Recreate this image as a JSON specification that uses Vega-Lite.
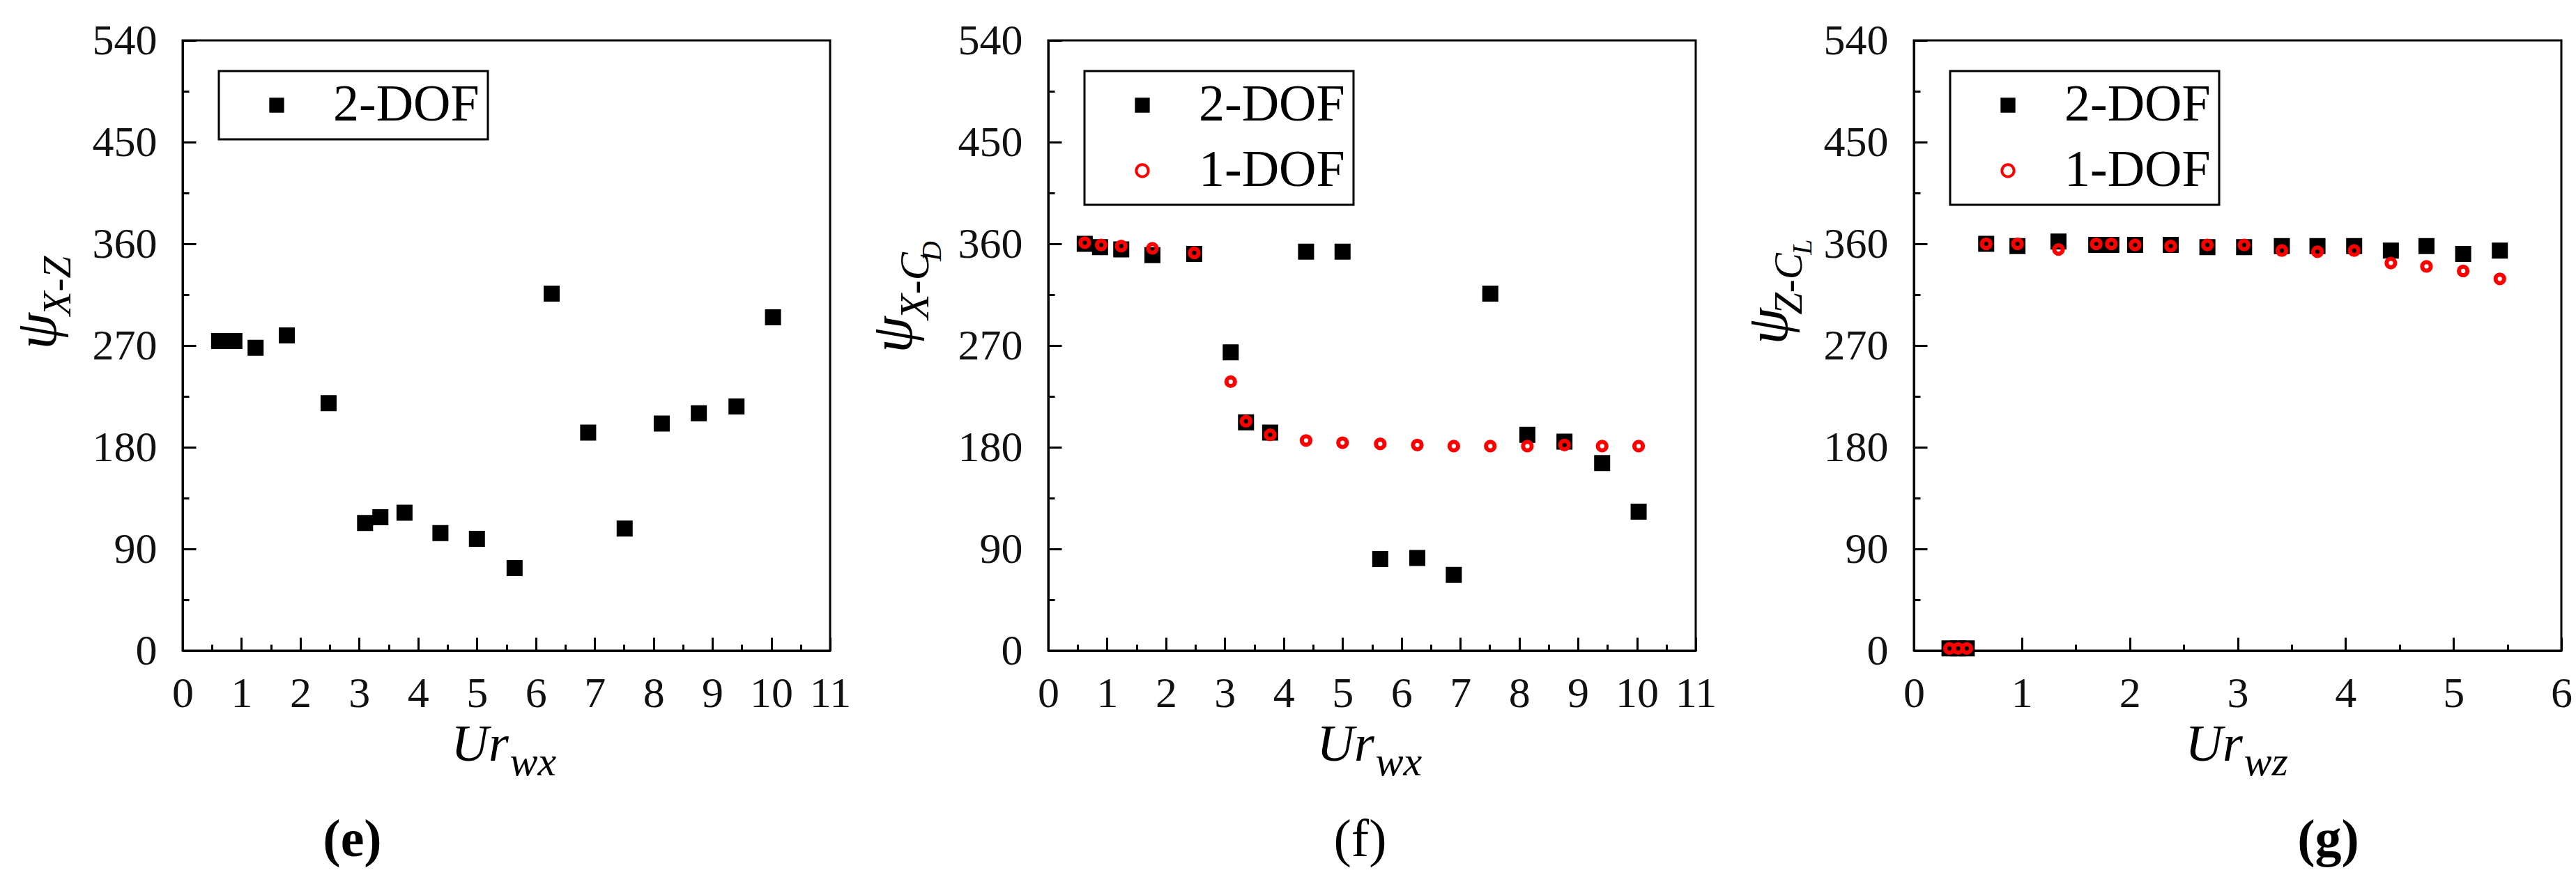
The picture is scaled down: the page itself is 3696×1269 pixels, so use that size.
{
  "$schema": "https://vega.github.io/schema/vega-lite/v6.json",
  "background": "white",
  "padding": {"left": 10, "top": 25, "right": 5, "bottom": 5},
  "bounds": "flush",
  "spacing": 313,
  "datasets": {
    "e": [
      {"ur": 0.62, "psi": 274, "series": "2-DOF"},
      {"ur": 0.88, "psi": 274, "series": "2-DOF"},
      {"ur": 1.24, "psi": 268, "series": "2-DOF"},
      {"ur": 1.77, "psi": 279, "series": "2-DOF"},
      {"ur": 2.48, "psi": 219, "series": "2-DOF"},
      {"ur": 3.10, "psi": 113, "series": "2-DOF"},
      {"ur": 3.36, "psi": 118, "series": "2-DOF"},
      {"ur": 3.77, "psi": 122, "series": "2-DOF"},
      {"ur": 4.38, "psi": 104, "series": "2-DOF"},
      {"ur": 5.00, "psi": 99, "series": "2-DOF"},
      {"ur": 5.64, "psi": 73, "series": "2-DOF"},
      {"ur": 6.27, "psi": 316, "series": "2-DOF"},
      {"ur": 6.89, "psi": 193, "series": "2-DOF"},
      {"ur": 7.51, "psi": 108, "series": "2-DOF"},
      {"ur": 8.14, "psi": 201, "series": "2-DOF"},
      {"ur": 8.77, "psi": 210, "series": "2-DOF"},
      {"ur": 9.41, "psi": 216, "series": "2-DOF"},
      {"ur": 10.03, "psi": 295, "series": "2-DOF"}
    ],
    "f": [
      {"ur": 0.62, "psi": 360, "series": "2-DOF"},
      {"ur": 0.88, "psi": 357, "series": "2-DOF"},
      {"ur": 1.24, "psi": 355, "series": "2-DOF"},
      {"ur": 1.77, "psi": 350, "series": "2-DOF"},
      {"ur": 2.48, "psi": 351, "series": "2-DOF"},
      {"ur": 3.10, "psi": 264, "series": "2-DOF"},
      {"ur": 3.36, "psi": 202, "series": "2-DOF"},
      {"ur": 3.77, "psi": 193, "series": "2-DOF"},
      {"ur": 4.38, "psi": 353, "series": "2-DOF"},
      {"ur": 5.00, "psi": 353, "series": "2-DOF"},
      {"ur": 5.64, "psi": 81, "series": "2-DOF"},
      {"ur": 6.27, "psi": 82, "series": "2-DOF"},
      {"ur": 6.89, "psi": 67, "series": "2-DOF"},
      {"ur": 7.51, "psi": 316, "series": "2-DOF"},
      {"ur": 8.14, "psi": 191, "series": "2-DOF"},
      {"ur": 8.77, "psi": 185, "series": "2-DOF"},
      {"ur": 9.41, "psi": 166, "series": "2-DOF"},
      {"ur": 10.03, "psi": 123, "series": "2-DOF"},
      {"ur": 0.62, "psi": 361, "series": "1-DOF"},
      {"ur": 0.90, "psi": 359, "series": "1-DOF"},
      {"ur": 1.24, "psi": 358, "series": "1-DOF"},
      {"ur": 1.77, "psi": 356, "series": "1-DOF"},
      {"ur": 2.48, "psi": 352, "series": "1-DOF"},
      {"ur": 3.10, "psi": 238, "series": "1-DOF"},
      {"ur": 3.36, "psi": 203, "series": "1-DOF"},
      {"ur": 3.77, "psi": 191, "series": "1-DOF"},
      {"ur": 4.38, "psi": 186, "series": "1-DOF"},
      {"ur": 5.00, "psi": 184, "series": "1-DOF"},
      {"ur": 5.64, "psi": 183, "series": "1-DOF"},
      {"ur": 6.27, "psi": 182, "series": "1-DOF"},
      {"ur": 6.89, "psi": 181, "series": "1-DOF"},
      {"ur": 7.51, "psi": 181, "series": "1-DOF"},
      {"ur": 8.14, "psi": 181, "series": "1-DOF"},
      {"ur": 8.77, "psi": 182, "series": "1-DOF"},
      {"ur": 9.41, "psi": 181, "series": "1-DOF"},
      {"ur": 10.03, "psi": 181, "series": "1-DOF"}
    ],
    "g": [
      {"ur": 0.33, "psi": 2, "series": "2-DOF"},
      {"ur": 0.41, "psi": 2, "series": "2-DOF"},
      {"ur": 0.49, "psi": 2, "series": "2-DOF"},
      {"ur": 0.67, "psi": 360, "series": "2-DOF"},
      {"ur": 0.96, "psi": 358, "series": "2-DOF"},
      {"ur": 1.34, "psi": 362, "series": "2-DOF"},
      {"ur": 1.69, "psi": 359, "series": "2-DOF"},
      {"ur": 1.83, "psi": 359, "series": "2-DOF"},
      {"ur": 2.05, "psi": 359, "series": "2-DOF"},
      {"ur": 2.38, "psi": 359, "series": "2-DOF"},
      {"ur": 2.72, "psi": 357, "series": "2-DOF"},
      {"ur": 3.06, "psi": 357, "series": "2-DOF"},
      {"ur": 3.41, "psi": 358, "series": "2-DOF"},
      {"ur": 3.74, "psi": 358, "series": "2-DOF"},
      {"ur": 4.08, "psi": 358, "series": "2-DOF"},
      {"ur": 4.42, "psi": 354, "series": "2-DOF"},
      {"ur": 4.75, "psi": 358, "series": "2-DOF"},
      {"ur": 5.09, "psi": 351, "series": "2-DOF"},
      {"ur": 5.43, "psi": 354, "series": "2-DOF"},
      {"ur": 0.33, "psi": 2, "series": "1-DOF"},
      {"ur": 0.41, "psi": 2, "series": "1-DOF"},
      {"ur": 0.49, "psi": 2, "series": "1-DOF"},
      {"ur": 0.67, "psi": 360, "series": "1-DOF"},
      {"ur": 0.96, "psi": 360, "series": "1-DOF"},
      {"ur": 1.34, "psi": 355, "series": "1-DOF"},
      {"ur": 1.69, "psi": 360, "series": "1-DOF"},
      {"ur": 1.83, "psi": 360, "series": "1-DOF"},
      {"ur": 2.05, "psi": 359, "series": "1-DOF"},
      {"ur": 2.38, "psi": 358, "series": "1-DOF"},
      {"ur": 2.72, "psi": 359, "series": "1-DOF"},
      {"ur": 3.06, "psi": 359, "series": "1-DOF"},
      {"ur": 3.41, "psi": 354, "series": "1-DOF"},
      {"ur": 3.74, "psi": 353, "series": "1-DOF"},
      {"ur": 4.08, "psi": 354, "series": "1-DOF"},
      {"ur": 4.42, "psi": 343, "series": "1-DOF"},
      {"ur": 4.75, "psi": 340, "series": "1-DOF"},
      {"ur": 5.09, "psi": 336, "series": "1-DOF"},
      {"ur": 5.43, "psi": 329, "series": "1-DOF"}
    ]
  },
  "hconcat": [
    {
      "width": 929,
      "height": 876,
      "data": {"name": "e"},
      "title": {"text": "(e)", "orient": "bottom", "anchor": "middle", "frame": "group", "dx": -221, "offset": 45, "font": "Liberation Serif", "fontSize": 76, "fontWeight": "bold", "color": "black"},
      "layer": [
        {
          "mark": {"type": "point", "strokeWidth": 3, "opacity": 1, "size": 400},
          "encoding": {
            "x": {"field": "ur", "type": "quantitative", "scale": {"domain": [0, 11], "nice": false, "zero": false},
                  "axis": {"orient": "bottom", "values": [0,1,2,3,4,5,6,7,8,9,10,11], "tickSize": -19, "labelPadding": 50, "labelFont": "Liberation Serif", "labelFontSize": 62, "title": "Ur", "titleFont": "Liberation Serif", "titleFontSize": 74, "titleFontStyle": "italic", "titleFontWeight": "normal", "titleAlign": "left", "titleBaseline": "alphabetic", "titleX": 385, "titleY": 157}},
            "y": {"field": "psi", "type": "quantitative", "scale": {"domain": [0, 540], "nice": false, "zero": false},
                  "axis": {"orient": "left", "values": [0,90,180,270,360,450,540], "tickSize": -19, "labelPadding": 56, "labelFont": "Liberation Serif", "labelFontSize": 62, "title": "ψ", "titleFont": "Liberation Serif", "titleFontSize": 84, "titleFontStyle": "italic", "titleFontWeight": "normal", "titleAngle": 270, "titleAlign": "center", "titleBaseline": "alphabetic", "titleX": -183, "titleY": 417}},
            "shape": {"field": "series", "type": "nominal", "scale": {"domain": ["2-DOF"], "range": ["square"]},
                      "legend": {"orient": "none", "legendX": 52, "legendY": 44, "title": null}},
            "fill": {"field": "series", "type": "nominal", "scale": {"domain": ["2-DOF"], "range": ["black"]},
                     "legend": {"orient": "none", "legendX": 52, "legendY": 44, "title": null}},
            "stroke": {"field": "series", "type": "nominal", "scale": {"domain": ["2-DOF"], "range": ["black"]},
                       "legend": {"orient": "none", "legendX": 52, "legendY": 44, "title": null}}
          }
        },
        {
          "mark": {"type": "point", "opacity": 0},
          "encoding": {
            "x": {"field": "ur", "type": "quantitative", "scale": {"domain": [0, 11], "nice": false, "zero": false},
                  "axis": {"orient": "bottom", "values": [0.5,1.5,2.5,3.5,4.5,5.5,6.5,7.5,8.5,9.5,10.5], "tickSize": -9, "labels": false, "domain": false, "title": "wx", "titleFont": "Liberation Serif", "titleFontSize": 60, "titleFontStyle": "italic", "titleFontWeight": "normal", "titleAlign": "left", "titleBaseline": "alphabetic", "titleX": 469, "titleY": 178}},
            "y": {"field": "psi", "type": "quantitative", "scale": {"domain": [0, 540], "nice": false, "zero": false},
                  "axis": {"orient": "left", "values": [45,135,225,315,405,495], "tickSize": -9, "labels": false, "domain": false, "title": "X-Z", "titleFont": "Liberation Serif", "titleFontSize": 57, "titleFontStyle": "italic", "titleFontWeight": "normal", "titleAngle": 270, "titleAlign": "center", "titleBaseline": "alphabetic", "titleX": -162, "titleY": 352}}
          }
        }
      ],
      "resolve": {"axis": {"x": "independent", "y": "independent"}}
    },
    {
      "width": 929,
      "height": 876,
      "data": {"name": "f"},
      "title": {"text": "(f)", "orient": "bottom", "anchor": "middle", "frame": "group", "dx": -17, "offset": 45, "font": "Liberation Serif", "fontSize": 76, "fontWeight": "normal", "color": "black"},
      "layer": [
        {
          "transform": [{"filter": "datum.series === '2-DOF'"}],
          "mark": {"type": "point", "strokeWidth": 3, "opacity": 1, "size": 400},
          "encoding": {
            "x": {"field": "ur", "type": "quantitative", "scale": {"domain": [0, 11], "nice": false, "zero": false},
                  "axis": {"orient": "bottom", "values": [0,1,2,3,4,5,6,7,8,9,10,11], "tickSize": -19, "labelPadding": 50, "labelFont": "Liberation Serif", "labelFontSize": 62, "title": "Ur", "titleFont": "Liberation Serif", "titleFontSize": 74, "titleFontStyle": "italic", "titleFontWeight": "normal", "titleAlign": "left", "titleBaseline": "alphabetic", "titleX": 385, "titleY": 157}},
            "y": {"field": "psi", "type": "quantitative", "scale": {"domain": [0, 540], "nice": false, "zero": false},
                  "axis": {"orient": "left", "values": [0,90,180,270,360,450,540], "tickSize": -19, "labelPadding": 56, "labelFont": "Liberation Serif", "labelFontSize": 62, "title": "ψ", "titleFont": "Liberation Serif", "titleFontSize": 84, "titleFontStyle": "italic", "titleFontWeight": "normal", "titleAngle": 270, "titleAlign": "center", "titleBaseline": "alphabetic", "titleX": -197, "titleY": 422}},
            "shape": {"field": "series", "type": "nominal", "scale": {"domain": ["2-DOF", "1-DOF"], "range": ["square", "circle"]},
                      "legend": {"orient": "none", "legendX": 52, "legendY": 44, "title": null}},
            "fill": {"field": "series", "type": "nominal", "scale": {"domain": ["2-DOF", "1-DOF"], "range": ["black", "transparent"]},
                     "legend": {"orient": "none", "legendX": 52, "legendY": 44, "title": null}},
            "stroke": {"field": "series", "type": "nominal", "scale": {"domain": ["2-DOF", "1-DOF"], "range": ["black", "red"]},
                       "legend": {"orient": "none", "legendX": 52, "legendY": 44, "title": null}}
          }
        },
        {
          "transform": [{"filter": "datum.series === '1-DOF'"}],
          "mark": {"type": "point", "strokeWidth": 6, "opacity": 1, "size": 150},
          "encoding": {
            "x": {"field": "ur", "type": "quantitative", "scale": {"domain": [0, 11], "nice": false, "zero": false}, "axis": null},
            "y": {"field": "psi", "type": "quantitative", "scale": {"domain": [0, 540], "nice": false, "zero": false}, "axis": null},
            "shape": {"field": "series", "type": "nominal", "scale": {"domain": ["2-DOF", "1-DOF"], "range": ["square", "circle"]},
                      "legend": {"orient": "none", "legendX": 52, "legendY": 44, "title": null}},
            "fill": {"field": "series", "type": "nominal", "scale": {"domain": ["2-DOF", "1-DOF"], "range": ["black", "transparent"]},
                     "legend": {"orient": "none", "legendX": 52, "legendY": 44, "title": null}},
            "stroke": {"field": "series", "type": "nominal", "scale": {"domain": ["2-DOF", "1-DOF"], "range": ["black", "red"]},
                       "legend": {"orient": "none", "legendX": 52, "legendY": 44, "title": null}}
          }
        },
        {
          "mark": {"type": "point", "opacity": 0},
          "encoding": {
            "x": {"field": "ur", "type": "quantitative", "scale": {"domain": [0, 11], "nice": false, "zero": false},
                  "axis": {"orient": "bottom", "values": [0.5,1.5,2.5,3.5,4.5,5.5,6.5,7.5,8.5,9.5,10.5], "tickSize": -9, "labels": false, "domain": false, "title": "wx", "titleFont": "Liberation Serif", "titleFontSize": 60, "titleFontStyle": "italic", "titleFontWeight": "normal", "titleAlign": "left", "titleBaseline": "alphabetic", "titleX": 469, "titleY": 178}},
            "y": {"field": "psi", "type": "quantitative", "scale": {"domain": [0, 540], "nice": false, "zero": false},
                  "axis": {"orient": "left", "values": [45,135,225,315,405,495], "tickSize": -9, "labels": false, "domain": false, "title": "X-C", "titleFont": "Liberation Serif", "titleFontSize": 60, "titleFontStyle": "italic", "titleFontWeight": "normal", "titleAngle": 270, "titleAlign": "center", "titleBaseline": "alphabetic", "titleX": -173, "titleY": 352}}
          }
        },
        {
          "mark": {"type": "point", "opacity": 0},
          "encoding": {
            "x": {"field": "ur", "type": "quantitative", "scale": {"domain": [0, 11], "nice": false, "zero": false}, "axis": null},
            "y": {"field": "psi", "type": "quantitative", "scale": {"domain": [0, 540], "nice": false, "zero": false},
                  "axis": {"orient": "left", "values": [], "ticks": false, "labels": false, "domain": false, "title": "D", "titleFont": "Liberation Serif", "titleFontSize": 40, "titleFontStyle": "italic", "titleFontWeight": "normal", "titleAngle": 270, "titleAlign": "center", "titleBaseline": "alphabetic", "titleX": -155, "titleY": 302}}
          }
        }
      ],
      "resolve": {"axis": {"x": "independent", "y": "independent"}}
    },
    {
      "width": 929,
      "height": 876,
      "data": {"name": "g"},
      "title": {"text": "(g)", "orient": "bottom", "anchor": "middle", "frame": "group", "dx": 130, "offset": 45, "font": "Liberation Serif", "fontSize": 76, "fontWeight": "bold", "color": "black"},
      "layer": [
        {
          "transform": [{"filter": "datum.series === '2-DOF'"}],
          "mark": {"type": "point", "strokeWidth": 3, "opacity": 1, "size": 400},
          "encoding": {
            "x": {"field": "ur", "type": "quantitative", "scale": {"domain": [0, 6], "nice": false, "zero": false},
                  "axis": {"orient": "bottom", "values": [0,1,2,3,4,5,6], "tickSize": -19, "labelPadding": 50, "labelFont": "Liberation Serif", "labelFontSize": 62, "title": "Ur", "titleFont": "Liberation Serif", "titleFontSize": 74, "titleFontStyle": "italic", "titleFontWeight": "normal", "titleAlign": "left", "titleBaseline": "alphabetic", "titleX": 389, "titleY": 157}},
            "y": {"field": "psi", "type": "quantitative", "scale": {"domain": [0, 540], "nice": false, "zero": false},
                  "axis": {"orient": "left", "values": [0,90,180,270,360,450,540], "tickSize": -19, "labelPadding": 56, "labelFont": "Liberation Serif", "labelFontSize": 62, "title": "ψ", "titleFont": "Liberation Serif", "titleFontSize": 84, "titleFontStyle": "italic", "titleFontWeight": "normal", "titleAngle": 270, "titleAlign": "center", "titleBaseline": "alphabetic", "titleX": -183, "titleY": 410}},
            "shape": {"field": "series", "type": "nominal", "scale": {"domain": ["2-DOF", "1-DOF"], "range": ["square", "circle"]},
                      "legend": {"orient": "none", "legendX": 52, "legendY": 44, "title": null}},
            "fill": {"field": "series", "type": "nominal", "scale": {"domain": ["2-DOF", "1-DOF"], "range": ["black", "transparent"]},
                     "legend": {"orient": "none", "legendX": 52, "legendY": 44, "title": null}},
            "stroke": {"field": "series", "type": "nominal", "scale": {"domain": ["2-DOF", "1-DOF"], "range": ["black", "red"]},
                       "legend": {"orient": "none", "legendX": 52, "legendY": 44, "title": null}}
          }
        },
        {
          "transform": [{"filter": "datum.series === '1-DOF'"}],
          "mark": {"type": "point", "strokeWidth": 6, "opacity": 1, "size": 150},
          "encoding": {
            "x": {"field": "ur", "type": "quantitative", "scale": {"domain": [0, 6], "nice": false, "zero": false}, "axis": null},
            "y": {"field": "psi", "type": "quantitative", "scale": {"domain": [0, 540], "nice": false, "zero": false}, "axis": null},
            "shape": {"field": "series", "type": "nominal", "scale": {"domain": ["2-DOF", "1-DOF"], "range": ["square", "circle"]},
                      "legend": {"orient": "none", "legendX": 52, "legendY": 44, "title": null}},
            "fill": {"field": "series", "type": "nominal", "scale": {"domain": ["2-DOF", "1-DOF"], "range": ["black", "transparent"]},
                     "legend": {"orient": "none", "legendX": 52, "legendY": 44, "title": null}},
            "stroke": {"field": "series", "type": "nominal", "scale": {"domain": ["2-DOF", "1-DOF"], "range": ["black", "red"]},
                       "legend": {"orient": "none", "legendX": 52, "legendY": 44, "title": null}}
          }
        },
        {
          "mark": {"type": "point", "opacity": 0},
          "encoding": {
            "x": {"field": "ur", "type": "quantitative", "scale": {"domain": [0, 6], "nice": false, "zero": false},
                  "axis": {"orient": "bottom", "values": [0.5,1.5,2.5,3.5,4.5,5.5], "tickSize": -9, "labels": false, "domain": false, "title": "wz", "titleFont": "Liberation Serif", "titleFontSize": 60, "titleFontStyle": "italic", "titleFontWeight": "normal", "titleAlign": "left", "titleBaseline": "alphabetic", "titleX": 473, "titleY": 178}},
            "y": {"field": "psi", "type": "quantitative", "scale": {"domain": [0, 540], "nice": false, "zero": false},
                  "axis": {"orient": "left", "values": [45,135,225,315,405,495], "tickSize": -9, "labels": false, "domain": false, "title": "Z-C", "titleFont": "Liberation Serif", "titleFontSize": 57, "titleFontStyle": "italic", "titleFontWeight": "normal", "titleAngle": 270, "titleAlign": "center", "titleBaseline": "alphabetic", "titleX": -162, "titleY": 349}}
          }
        },
        {
          "mark": {"type": "point", "opacity": 0},
          "encoding": {
            "x": {"field": "ur", "type": "quantitative", "scale": {"domain": [0, 6], "nice": false, "zero": false}, "axis": null},
            "y": {"field": "psi", "type": "quantitative", "scale": {"domain": [0, 540], "nice": false, "zero": false},
                  "axis": {"orient": "left", "values": [], "ticks": false, "labels": false, "domain": false, "title": "L", "titleFont": "Liberation Serif", "titleFontSize": 40, "titleFontStyle": "italic", "titleFontWeight": "normal", "titleAngle": 270, "titleAlign": "center", "titleBaseline": "alphabetic", "titleX": -148, "titleY": 296}}
          }
        }
      ],
      "resolve": {"axis": {"x": "independent", "y": "independent"}}
    }
  ],
  "resolve": {"scale": {"shape": "independent", "fill": "independent", "stroke": "independent"}, "legend": {"shape": "independent", "fill": "independent", "stroke": "independent"}},
  "config": {
    "view": {"stroke": "black", "strokeWidth": 3},
    "style": {"guide-label": {"font": "Liberation Serif"}},
    "axis": {"grid": false, "domainColor": "black", "domainWidth": 3, "tickColor": "black", "tickWidth": 3, "labelFont": "Liberation Serif", "labelFontSize": 62, "labelColor": "#111111", "labelFlush": false, "labelOverlap": false, "titleColor": "black"},
    "legend": {"strokeColor": "black", "strokeWidth": 3, "padding": 12, "symbolOffset": 34, "labelOffset": 44, "rowPadding": 20, "labelFont": "Liberation Serif", "labelFontSize": 74, "labelColor": "black", "labelLimit": 0, "symbolSize": 300, "symbolStrokeWidth": 4, "fillColor": "white"}
  }
}
